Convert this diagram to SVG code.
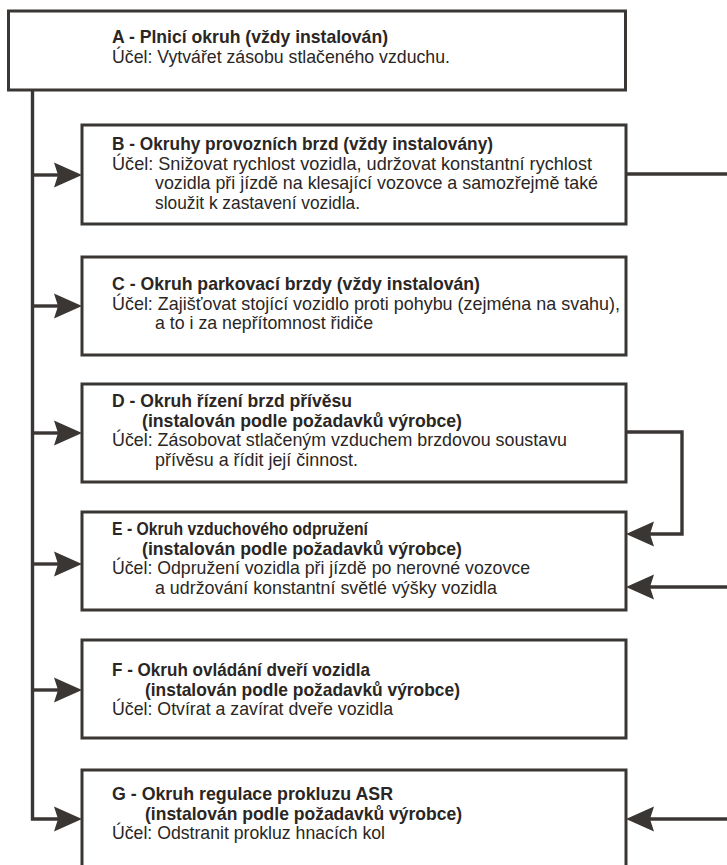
<svg xmlns="http://www.w3.org/2000/svg" xmlns:xlink="http://www.w3.org/1999/xlink" width="727" height="865" viewBox="0 0 727 865">
<style>
.box{fill:#fff;stroke:#3a3634;stroke-width:3}
.ln{fill:none;stroke:#3a3634;stroke-width:3.4}
.ah{fill:#3a3634;stroke:none}
.t{font-family:"Liberation Sans Narrow","Liberation Sans",Arial,sans-serif;font-size:18.5px;font-weight:bold;fill:#2a2624}
.b{font-family:"Liberation Sans Narrow","Liberation Sans",Arial,sans-serif;font-size:18.5px;fill:#2a2624}
</style>
<defs>
<path id="ahR" class="ah" d="M0,0 L-28,-12.5 L-24,0 L-28,12.5 Z"/>
<path id="ahL" class="ah" d="M0,0 L28,-12.5 L24,0 L28,12.5 Z"/>
</defs>
<rect width="727" height="865" fill="#fff"/>
<g id="connectors">
<path class="ln" d="M32.5,90 V819 H60"/>
<path class="ln" d="M32.5,175 H60"/>
<path class="ln" d="M32.5,306 H60"/>
<path class="ln" d="M32.5,433 H60"/>
<path class="ln" d="M32.5,564 H60"/>
<path class="ln" d="M32.5,690 H60"/>
<path class="ln" d="M626,174 H727"/>
<path class="ln" d="M626,432 H682 V534 H648"/>
<path class="ln" d="M727,587 H648"/>
<path class="ln" d="M727,819 H648"/>
<use xlink:href="#ahR" href="#ahR" x="82" y="175"/>
<use xlink:href="#ahR" href="#ahR" x="82" y="306"/>
<use xlink:href="#ahR" href="#ahR" x="82" y="433"/>
<use xlink:href="#ahR" href="#ahR" x="82" y="564"/>
<use xlink:href="#ahR" href="#ahR" x="82" y="690"/>
<use xlink:href="#ahR" href="#ahR" x="82" y="819"/>
<use xlink:href="#ahL" href="#ahL" x="626" y="534"/>
<use xlink:href="#ahL" href="#ahL" x="626" y="587"/>
<use xlink:href="#ahL" href="#ahL" x="626" y="819"/>
</g>
<g id="A">
<rect class="box" x="8.5" y="11" width="617" height="79"/>
<text class="t" x="112" y="43" textLength="276" lengthAdjust="spacingAndGlyphs">A - Plnicí okruh (vždy instalován)</text>
<text class="b" x="112" y="63" textLength="338" lengthAdjust="spacingAndGlyphs">Účel: Vytvářet zásobu stlačeného vzduchu.</text>
</g>
<g id="B">
<rect class="box" x="82" y="125" width="544" height="99"/>
<text class="t" x="112" y="150" textLength="381" lengthAdjust="spacingAndGlyphs">B - Okruhy provozních brzd (vždy instalovány)</text>
<text class="b" x="112" y="169.5" textLength="480" lengthAdjust="spacingAndGlyphs">Účel: Snižovat rychlost vozidla, udržovat konstantní rychlost</text>
<text class="b" x="155" y="189" textLength="443" lengthAdjust="spacingAndGlyphs">vozidla při jízdě na klesající vozovce a samozřejmě také</text>
<text class="b" x="155" y="208.5" textLength="205" lengthAdjust="spacingAndGlyphs">sloužit k zastavení vozidla.</text>
</g>
<g id="C">
<rect class="box" x="82" y="257" width="544" height="98"/>
<text class="t" x="112" y="290" textLength="368" lengthAdjust="spacingAndGlyphs">C - Okruh parkovací brzdy (vždy instalován)</text>
<text class="b" x="112" y="309.5" textLength="508" lengthAdjust="spacingAndGlyphs">Účel: Zajišťovat stojící vozidlo proti pohybu (zejména na svahu),</text>
<text class="b" x="155" y="329" textLength="218" lengthAdjust="spacingAndGlyphs">a to i za nepřítomnost řidiče</text>
</g>
<g id="D">
<rect class="box" x="82" y="384" width="544" height="98"/>
<text class="t" x="112" y="407" textLength="240" lengthAdjust="spacingAndGlyphs">D - Okruh řízení brzd přívěsu</text>
<text class="t" x="142" y="426.5" textLength="320" lengthAdjust="spacingAndGlyphs">(instalován podle požadavků výrobce)</text>
<text class="b" x="112" y="446" textLength="455" lengthAdjust="spacingAndGlyphs">Účel: Zásobovat stlačeným vzduchem brzdovou soustavu</text>
<text class="b" x="155" y="465.5" textLength="203" lengthAdjust="spacingAndGlyphs">přívěsu a řídit její činnost.</text>
</g>
<g id="E">
<rect class="box" x="82" y="512" width="544" height="98"/>
<text class="t" x="112" y="535" textLength="256" lengthAdjust="spacingAndGlyphs">E - Okruh vzduchového odpružení</text>
<text class="t" x="142" y="554.5" textLength="320" lengthAdjust="spacingAndGlyphs">(instalován podle požadavků výrobce)</text>
<text class="b" x="112" y="574" textLength="418" lengthAdjust="spacingAndGlyphs">Účel: Odpružení vozidla při jízdě po nerovné vozovce</text>
<text class="b" x="155" y="593.5" textLength="342" lengthAdjust="spacingAndGlyphs">a udržování konstantní světlé výšky vozidla</text>
</g>
<g id="F">
<rect class="box" x="82" y="640" width="544" height="98"/>
<text class="t" x="112" y="676" textLength="258" lengthAdjust="spacingAndGlyphs">F - Okruh ovládání dveří vozidla</text>
<text class="t" x="145" y="695.5" textLength="315" lengthAdjust="spacingAndGlyphs">(instalován podle požadavků výrobce)</text>
<text class="b" x="112" y="715" textLength="281" lengthAdjust="spacingAndGlyphs">Účel: Otvírat a zavírat dveře vozidla</text>
</g>
<g id="G">
<rect class="box" x="82" y="770" width="544" height="100"/>
<text class="t" x="112" y="800" textLength="281" lengthAdjust="spacingAndGlyphs">G - Okruh regulace prokluzu ASR</text>
<text class="t" x="145" y="819.5" textLength="317" lengthAdjust="spacingAndGlyphs">(instalován podle požadavků výrobce)</text>
<text class="b" x="112" y="839" textLength="273" lengthAdjust="spacingAndGlyphs">Účel: Odstranit prokluz hnacích kol</text>
</g>
</svg>
